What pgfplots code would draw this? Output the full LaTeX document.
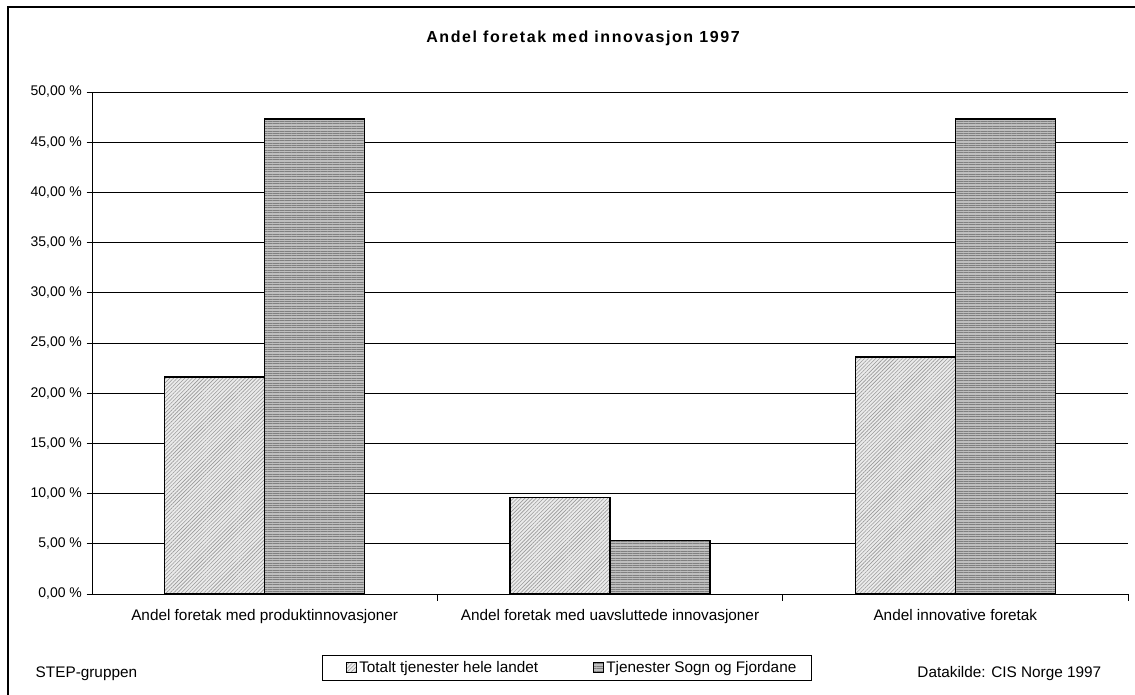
\documentclass[border=0pt]{standalone}
\usepackage{pgfplots}
\pgfplotsset{compat=1.18}
\usepackage{fontspec}
\setmainfont{Liberation Sans}
\newfontfamily\titlefont[LetterSpace=10]{Liberation Sans}
\usetikzlibrary{patterns.meta}
\begin{document}
\begin{tikzpicture}[x=0.75pt,y=0.75pt,font=\fontsize{11.5}{13}\selectfont]
\useasboundingbox (0,0) rectangle (1135,695);
\draw[line width=1.4pt] (8,0) -- (8,688) -- (1135,688);
\node[font=\titlefont\fontsize{12}{14}\selectfont\bfseries] at (583,657) {Andel foretak med innovasjon 1997};
\node[anchor=base west] at (31,17) {STEP-gruppen};
\node[anchor=base east] at (1106,17) {Datakilde: CIS Norge 1997};
\begin{axis}[
  at={(69pt,75.75pt)}, anchor=south west,
  scale only axis, width=777pt, height=376.5pt,
  ybar=0pt, bar width=0.29,
  xmin=-0.5, xmax=2.5, ymin=0, ymax=50,
  axis x line*=bottom, axis y line*=left,
  axis line style={line width=0.7pt, -},
  ytick={0,5,...,50},
  yticklabels={{0,00 \%},{5,00 \%},{10,00 \%},{15,00 \%},{20,00 \%},{25,00 \%},{30,00 \%},{35,00 \%},{40,00 \%},{45,00 \%},{50,00 \%}},
  ymajorgrids, grid style={black, line width=0.6pt},
  y tick style={black, line width=0.6pt}, tick align=outside, major tick length=4pt,
  xtick={0,1,2},
  xticklabels={Andel foretak med produktinnovasjoner, Andel foretak med uavsluttede innovasjoner, Andel innovative foretak},
  x tick style={draw=none},
  extra x ticks={0.5,1.5,2.5}, extra x tick labels={},
  extra x tick style={x tick style={black, line width=0.6pt, draw=black}, major tick length=5pt, xmajorgrids=false},
  yticklabel style={font=\fontsize{10.5}{12}\selectfont},
  xticklabel style={font=\fontsize{11.5}{13}\selectfont, yshift=-4pt},
  legend style={at={(0.458,-0.1464)}, anchor=center, draw=black, line width=0.6pt,
    legend columns=2, font=\fontsize{11.5}{13}\selectfont,
    /tikz/every even column/.append style={column sep=30pt},
    inner xsep=9pt, inner ysep=2.5pt},
  legend image code/.code={\path (-9pt,0pt) (7pt,0pt); \draw[#1, line width=0.5pt] (0pt,-3.5pt) rectangle (7pt,3.5pt);},
]
\addplot[draw=black, line width=1pt, fill=black!8,
  postaction={pattern={Lines[angle=45,distance=2pt,line width=0.45pt]}, pattern color=black!40}]
  coordinates {(0,21.6) (1,9.63) (2,23.6)};
\addplot[draw=black, line width=1pt, fill=black!25,
  postaction={pattern={Lines[angle=0,distance=1.8pt,line width=0.5pt]}, pattern color=black!50}]
  coordinates {(0,47.3) (1,5.35) (2,47.3)};
\legend{Totalt tjenester hele landet, Tjenester Sogn og Fjordane}
\end{axis}
\end{tikzpicture}
\end{document}
